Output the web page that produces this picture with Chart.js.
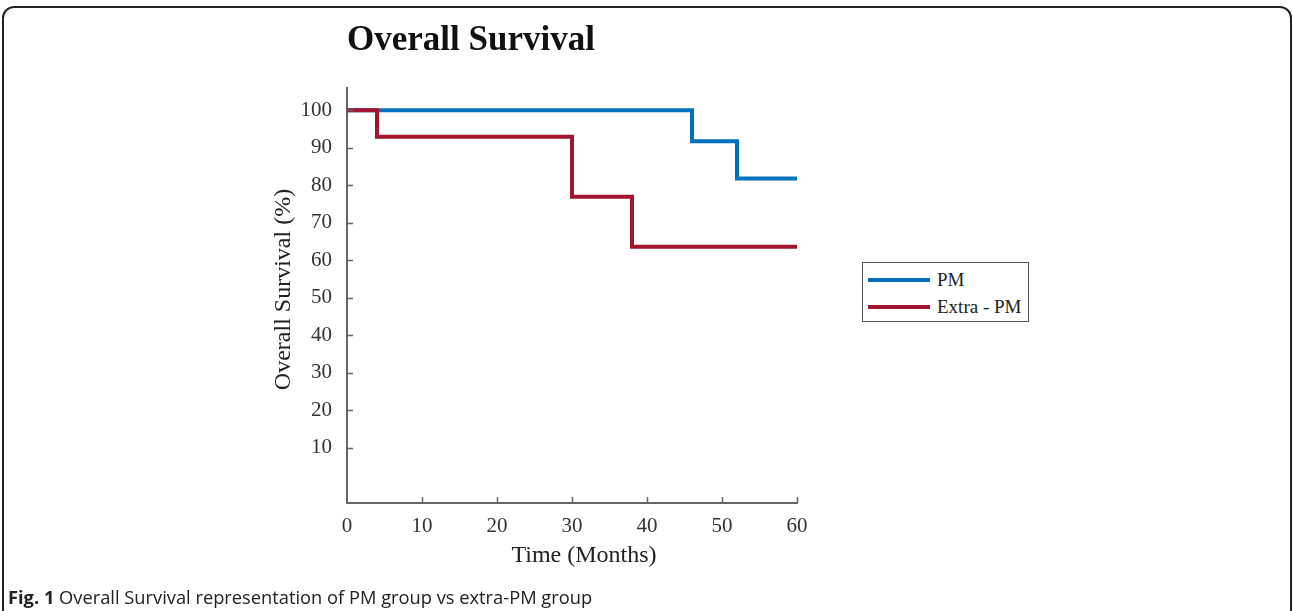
<!DOCTYPE html>
<html>
<head>
<meta charset="utf-8">
<script src="https://cdn.jsdelivr.net/npm/chart.js@4.4.1/dist/chart.umd.min.js"></script>
<style>
  html, body { margin: 0; padding: 0; background: #fff; }
  body { width: 1293px; height: 611px; position: relative; overflow: hidden; }
  #frame {
    position: absolute; left: 2px; top: 6px; width: 1286px; height: 700px;
    border: 2px solid #222; border-radius: 12px;
  }
  #chart { position: absolute; left: 0; top: 0; }
  #title {
    position: absolute; left: 347px; top: 19px;
    font: bold 35px "Liberation Serif", serif; color: #111;
  }
  #legend {
    position: absolute; left: 862px; top: 262px; width: 165px; height: 58px;
    border: 1.5px solid #555; background: #fff;
    font: 19px "Liberation Serif", serif; color: #222;
  }
  .item { position: absolute; left: 5px; height: 22px; }
  .item .swatch { position: absolute; left: 0; top: 9px; width: 62px; height: 4px; }
  .item span { position: absolute; left: 69px; top: 0; white-space: nowrap; line-height: 22px; }
  #caption {
    position: absolute; left: 8px; top: 584px;
    font: 18.3px "Open Sans", sans-serif; color: #222; white-space: nowrap;
  }
</style>
</head>
<body>
<div id="frame"></div>
<canvas id="chart" width="1293" height="611"></canvas>
<div id="title">Overall Survival</div>
<div id="legend"></div>
<div id="caption"><b>Fig. 1</b> Overall Survival representation of PM group vs extra-PM group</div>
<script>
// Kaplan-Meier steps
const seriesNames = ['PM', 'Extra - PM'];
const seriesColors = ['#0072BD', '#A2142F'];

const pmMonths = [0, 46, 52, 60];
const pmSurvival = [100, 91.7, 81.8, 81.8];

const extraMonths = [0, 4, 30, 38, 60];
const extraSurvival = [100, 92.9, 76.9, 63.6, 63.6];

const xTicks = [0, 10, 20, 30, 40, 50, 60];
const yTicks = [10, 20, 30, 40, 50, 60, 70, 80, 90, 100];

const toPoints = (xs, ys) => xs.map((x, i) => ({ x: x, y: ys[i] }));

// legend box (html, drawn next to the plot)
const legend = document.getElementById('legend');
seriesNames.forEach((name, i) => {
    const item = document.createElement('div');
    item.className = 'item';
    item.style.top = (6 + i * 27) + 'px';
    item.innerHTML = '<div class="swatch" style="background:' + seriesColors[i] + '"></div><span>' + name + '</span>';
    legend.appendChild(item);
});

// inward tick marks like the original figure
const innerTicks = {
    id: 'innerTicks',
    afterDraw(chart) {
        const { ctx, chartArea, scales } = chart;
        ctx.save();
        ctx.strokeStyle = '#666';
        ctx.lineWidth = 1.5;
        ctx.beginPath();
        yTicks.forEach(v => {
            const py = Math.round(scales.y.getPixelForValue(v)) + 0.5;
            ctx.moveTo(chartArea.left, py);
            ctx.lineTo(chartArea.left + 6, py);
        });
        xTicks.forEach(v => {
            if (v === 0) return;
            const px = Math.round(scales.x.getPixelForValue(v)) + 0.5;
            ctx.moveTo(px, chartArea.bottom);
            ctx.lineTo(px, chartArea.bottom - 6);
        });
        ctx.stroke();
        ctx.restore();
    }
};

const serif = '"Liberation Serif", serif';

new Chart(document.getElementById('chart'), {
    type: 'line',
    data: {
        datasets: [
            {
                label: seriesNames[0],
                data: toPoints(pmMonths, pmSurvival),
                borderColor: seriesColors[0],
                borderWidth: 4,
                stepped: 'before',
                pointRadius: 0,
                fill: false,
                order: 2
            },
            {
                label: seriesNames[1],
                data: toPoints(extraMonths, extraSurvival),
                borderColor: seriesColors[1],
                borderWidth: 4,
                stepped: 'before',
                pointRadius: 0,
                fill: false,
                order: 1 // red drawn on top, as in the figure
            }
        ]
    },
    options: {
        responsive: false,
        animation: false,
        layout: { padding: { left: 0, top: 88, right: 496, bottom: 0 } },
        plugins: {
            legend: { display: false },
            tooltip: { enabled: false }
        },
        scales: {
            x: {
                type: 'linear',
                min: 0,
                max: 60,
                afterBuildTicks: s => { s.ticks = xTicks.map(v => ({ value: v })); },
                afterFit: s => { s.height = 108; },
                grid: { display: false },
                border: { color: '#666', width: 2 },
                ticks: { color: '#333', padding: 3, font: { family: serif, size: 21 } },
                title: {
                    display: true,
                    text: '\u2002\u2002Time (Months)',
                    color: '#222',
                    font: { family: serif, size: 24 },
                    padding: { bottom: 41 }
                }
            },
            y: {
                min: -4.7,
                max: 105.9,
                afterBuildTicks: s => { s.ticks = yTicks.map(v => ({ value: v })); },
                afterFit: s => { s.width = 347; },
                grid: { display: false },
                border: { color: '#666', width: 2 },
                ticks: { color: '#333', padding: 7, font: { family: serif, size: 21 } },
                title: {
                    display: true,
                    text: '\u2002Overall Survival (%)',
                    color: '#222',
                    font: { family: serif, size: 24 },
                    padding: { top: 269 }
                }
            }
        }
    },
    plugins: [innerTicks]
});
</script>
</body>
</html>
